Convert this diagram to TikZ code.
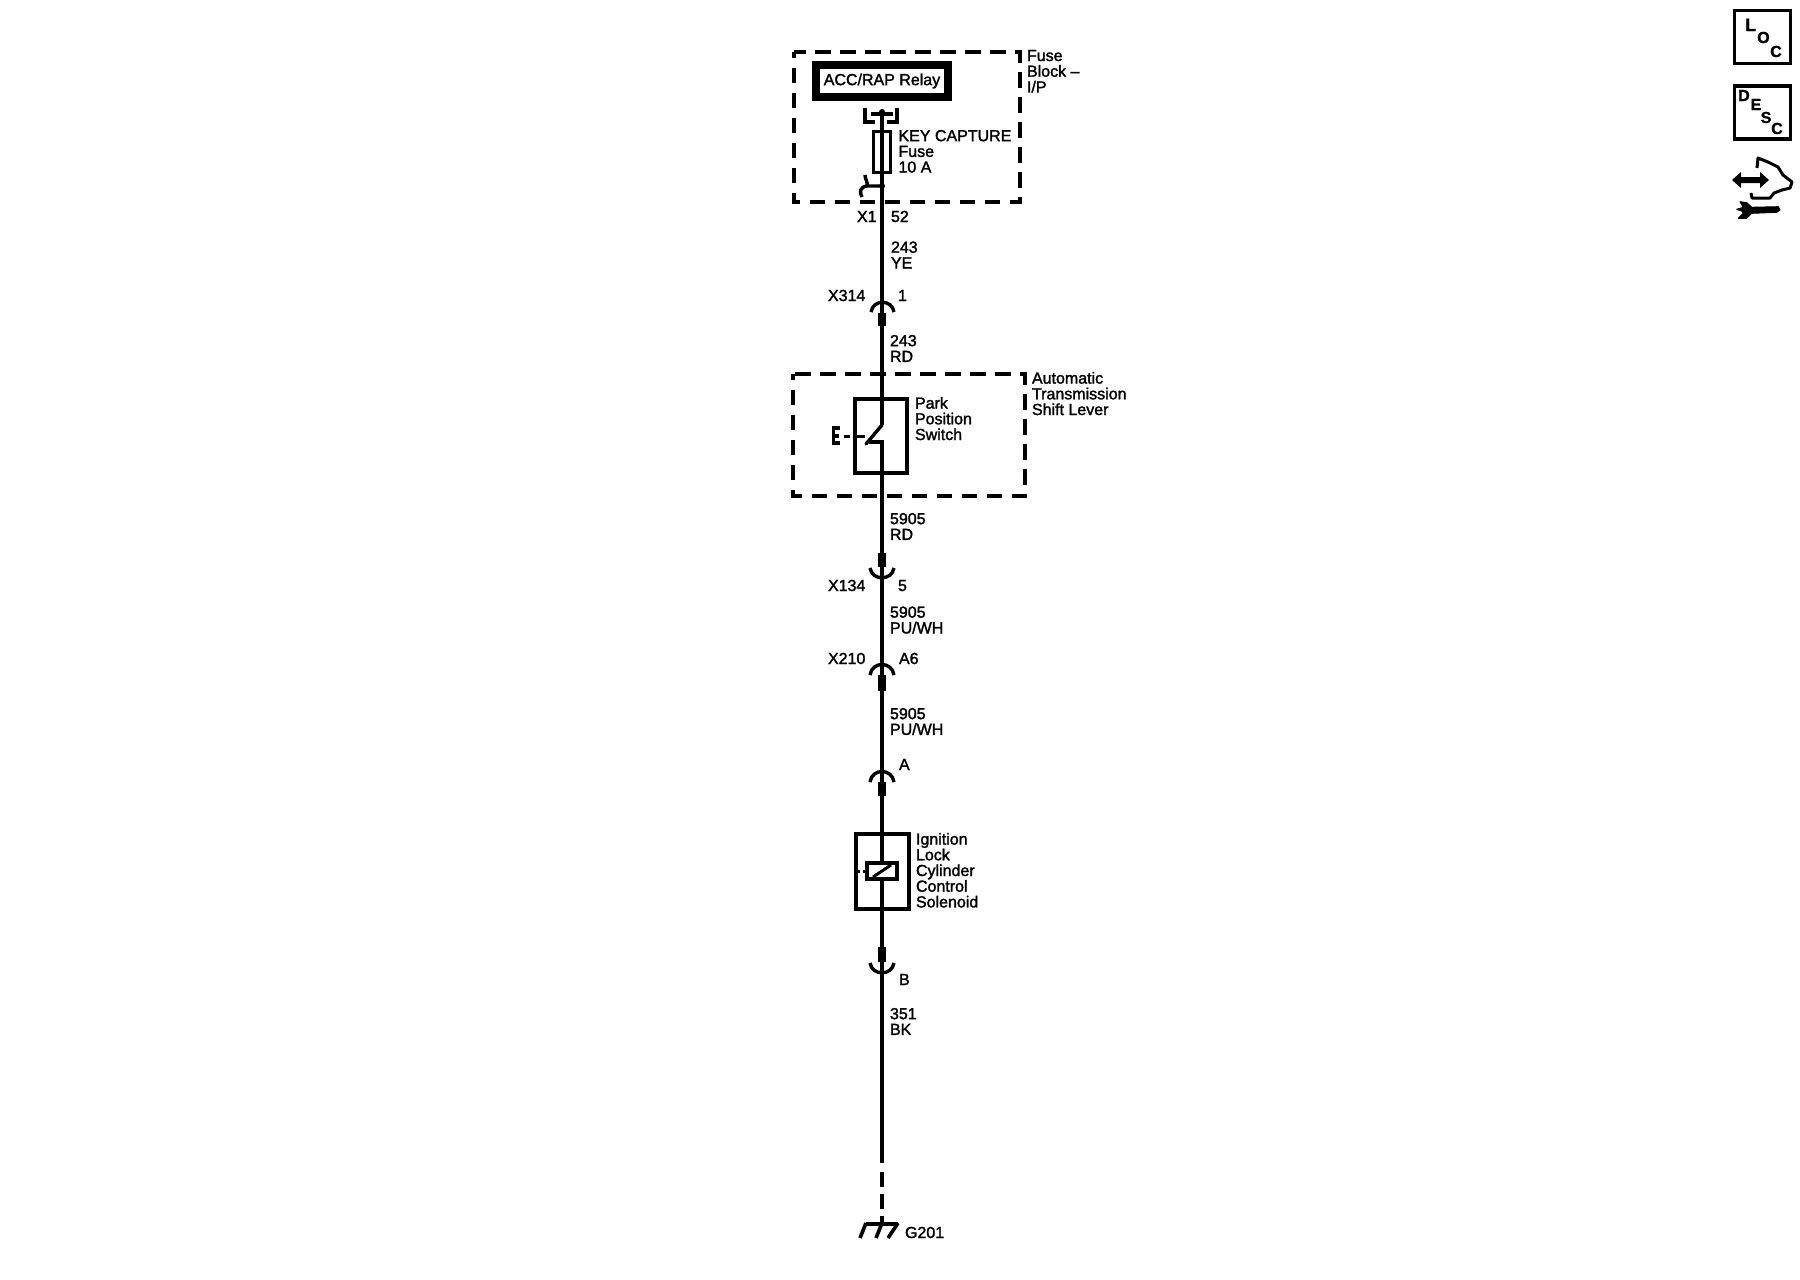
\documentclass[tikz,border=0pt]{standalone}
\usepackage{fontspec}
\setmainfont[FakeBold=1.7]{Liberation Sans}
\newfontfamily\boldletters[FakeBold=1]{Liberation Sans Bold}
\tikzset{
  x=1pt,y=-1pt,
  lbl/.style={anchor=north west,inner sep=0pt,outer sep=0pt,align=left,yshift=12pt,
    font=\fontsize{16}{15.7}\selectfont,execute at begin node={\rule{0pt}{12pt}}},
  wire/.style={line width=4pt,line cap=butt},
  thin line/.style={line width=3.4pt},
  boxline/.style={line width=4pt},
  dashbox/.style={line width=3.4pt,dash pattern=on 15.5pt off 9.5pt,dash phase=9.5pt},
  sock/.style={fill=black,inner sep=0pt,outer sep=0pt,minimum width=8pt},
  dot/.style={circle,fill=black,inner sep=0pt,minimum size=6pt},
  tag/.style={anchor=base west,inner sep=0pt,font=\boldletters\fontsize{16}{16}\selectfont},
  iconbox/.style={draw,line width=3.6pt,inner sep=0pt,minimum width=56pt,minimum height=53pt},
}
\begin{document}
\begin{tikzpicture}
\useasboundingbox (0,0) rectangle (1800,1280);
\fill[white] (0,0) rectangle (1800,1280);

% dashed housings
\draw[dashbox] (794,52) rectangle (1020,202);
\draw[dashbox] (793,374) rectangle (1025,496);

% relay
\node[draw,line width=8pt,minimum width=132pt,minimum height=32pt,inner sep=0pt,
      font=\fontsize{16}{16}\selectfont] (relay) at (882,81) {ACC/RAP Relay};

% coordinates of the wire run
\coordinate (top) at (882,112);
\node[dot] (topdot) at (top) {};
\node[dot] (fusedot) at (882,186) {};
\node[sock,minimum height=13pt] (s1) at (882,319.5) {};
\node[sock,minimum height=14pt] (s2) at (882,560) {};
\node[sock,minimum height=16pt] (s3) at (882,683) {};
\node[sock,minimum height=14pt] (s4) at (882,789) {};
\node[sock,minimum height=15pt] (s5) at (882,954.5) {};
\coordinate (swtop) at (882,425);
\coordinate (swtip) at (866,444);
\coordinate (swfix) at (882,442);
\coordinate (swfixl) at (869,442);
\coordinate (solid) at (882,1163);
\coordinate (dashA) at (882,1172);
\coordinate (gnd) at (882,1223);

% wires
\draw[wire] (topdot.center) -- (s1.north);
\draw[wire] (s1.south) -- (swtop);
\draw[wire,line width=3.4pt,line cap=round] (swtop) -- (swtip);
\draw[wire,line width=3.4pt] (swfixl) -- (swfix);
\draw[wire] (880,442) -- (882,442) -- (s2.north);
\draw[wire] (s2.south) -- (s3.north);
\draw[wire] (s3.south) -- (s4.north);
\draw[wire] (s4.south) -- (s5.north);
\draw[wire] (s5.south) -- (solid);
\draw[wire,dash pattern=on 15pt off 7pt] (dashA) -- (gnd);

% bracket at top
\draw[line width=3.4pt] (865,108) -- (865,122) -- (875,122);
\draw[line width=3.4pt] (897,108) -- (897,122) -- (887,122);
\draw[line width=3.4pt] (871,114) -- (893,114);

% fuse
\node[draw,line width=3.2pt,fill=none,minimum width=17pt,minimum height=41pt,inner sep=0pt] (fuse) at (882,152) {};
\draw[line width=3.4pt] (fusedot.center) -- (867,186) .. controls (860,187) and (859,192) .. (862,197);
\draw[line width=3.4pt] (865,175) .. controls (865,179) and (868,182) .. (867,186);

% connector arcs
\draw[thin line] (871,312) .. controls (873,299) and (892,299) .. (894,312);
\draw[thin line] (870,568) .. controls (872,581) and (892,581) .. (894,568);
\draw[thin line] (870,675) .. controls (872,661) and (892,661) .. (894,675);
\draw[thin line] (870,782) .. controls (872,768) and (892,768) .. (894,782);
\draw[thin line] (870,963) .. controls (872,976) and (892,976) .. (894,963);

% switch
\node[boxline,draw,minimum width=52pt,minimum height=74pt,inner sep=0pt] (switch) at (881,435.5) {};
\draw[line width=3pt] (844,436) -- (850,436);
\draw[line width=3pt] (855,436) -- (865,436);
\draw[line width=3.4pt] (840,428) -- (833.5,428) -- (833.5,443) -- (840,443) (833.5,436) -- (839,436);

% solenoid
\node[boxline,draw,minimum width=53pt,minimum height=75pt,inner sep=0pt] (sol) at (882,871) {};
\node[draw,fill=white,line width=3.6pt,minimum width=30pt,minimum height=16pt,inner sep=0pt] (coil) at (882,871) {};
\draw[line width=3pt] (873,877) -- (891,865);
\draw[line width=3pt] (858,871) -- (860,871);
\draw[line width=3pt] (863,871) -- (coil.west);

% ground
\draw[line width=3.6pt] (866,1224) -- (898,1224);
\draw[line width=3.6pt] (866,1223) -- (860,1238);
\draw[line width=3.6pt] (882,1223) -- (876,1238);
\draw[line width=3.6pt] (898,1223) -- (888,1238);

% labels
\node[lbl] (l1) at (1027,62) {Fuse\\Block --\\I/P};
\node[lbl] (l2) at (898.5,142) {KEY CAPTURE\\Fuse\\10 A};
\node[lbl] (l3) at (857,222) {X1};
\node[lbl] (l4) at (891,222) {52};
\node[lbl] (l5) at (891,253.5) {243\\YE};
\node[lbl] (l6) at (828,301) {X314};
\node[lbl] (l7) at (898,301) {1};
\node[lbl] (l8) at (890,347) {243\\RD};
\node[lbl] (l9) at (1032,384) {Automatic\\Transmission\\Shift Lever};
\node[lbl] (l10) at (915,409) {Park\\Position\\Switch};
\node[lbl] (l11) at (890,525) {5905\\RD};
\node[lbl] (l12) at (828,591) {X134};
\node[lbl] (l13) at (898,591) {5};
\node[lbl] (l14) at (890,618.5) {5905\\PU/WH};
\node[lbl] (l15) at (828,664) {X210};
\node[lbl] (l16) at (899,664) {A6};
\node[lbl] (l17) at (890,720) {5905\\PU/WH};
\node[lbl] (l18) at (899,770) {A};
\node[lbl] (l19) at (916,845) {Ignition\\Lock\\Cylinder\\Control\\Solenoid};
\node[lbl] (l20) at (899,985) {B};
\node[lbl] (l21) at (890,1020) {351\\BK};
\node[lbl] (l22) at (905,1238) {G201};

% corner icons
\node[iconbox] (loc) at (1762.5,37) {};
\node[tag,font=\boldletters\fontsize{18}{18}\selectfont] (L) at (1745,31) {L};
\node[tag] (O) at (1757,43) {O};
\node[tag] (C) at (1770,57) {C};
\node[iconbox] (desc) at (1762.5,112.5) {};
\node[tag] (D) at (1738,101) {D};
\node[tag] (E) at (1750.5,110) {E};
\node[tag] (S) at (1760.5,123) {S};
\node[tag] (C2) at (1771,134) {C};

% hand and wrench
\draw[line width=3pt,line join=round] (1751,193) -- (1752,198) -- (1770,198) -- (1774,193) -- (1782,190) -- (1790,188) -- (1792,182) -- (1783,175) -- (1778,167) -- (1768,162) -- (1758,158) -- (1757,168);
\fill (1732,180) -- (1741,172) -- (1741,177) -- (1760,177) -- (1760,172) -- (1769,180) -- (1760,188) -- (1760,183) -- (1741,183) -- (1741,188) -- cycle;
\filldraw[line width=1pt,line join=round] (1740,201.7) -- (1746.7,202.7) -- (1751.7,207.3) -- (1778.3,206.7) -- (1780,210) -- (1776.7,212.3) -- (1751.7,213.3) -- (1746.7,218.3) -- (1738.3,218.3) -- (1743.3,213.3) -- (1741.7,211) -- (1736.7,209.3) -- (1743.3,207.3) -- cycle;
\end{tikzpicture}
\end{document}
